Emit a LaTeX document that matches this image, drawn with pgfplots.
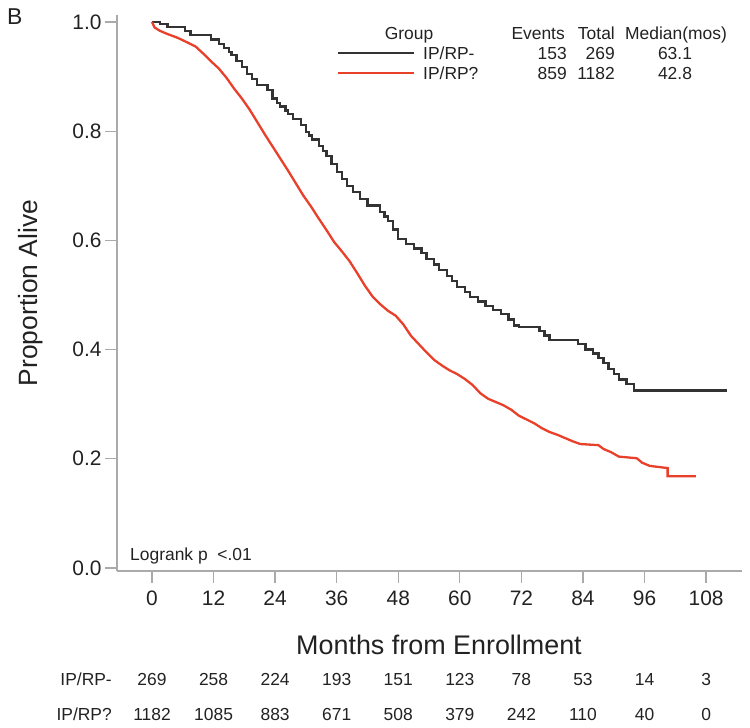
\documentclass[border=0pt]{standalone}
\usepackage{pgfplots}
\pgfplotsset{compat=1.18}
\usepackage{fontspec}
\setmainfont{Liberation Sans}
\definecolor{kmblack}{HTML}{333333}
\definecolor{kmred}{HTML}{E8402A}
\definecolor{axgray}{HTML}{AAAAAA}
\definecolor{txt}{HTML}{222222}
\newcommand{\fs}[1]{\fontsize{#1}{#1}\selectfont}

\begin{document}
\begin{tikzpicture}[x=1bp,y=1bp]
\path[use as bounding box] (0,0) rectangle (750,728);
\begin{axis}[
  at={(117bp,157bp)}, anchor=south west,
  scale only axis, width=625bp, height=556bp,
  xmin=-6.82, xmax=115, ymin=-0.0055, ymax=1.0128,
  axis lines=left,
  axis line style={-, draw=axgray, line width=1.3bp},
  tick style={draw=axgray, line width=1.3bp},
  tick align=outside, major tick length=12bp,
  xtick={0,12,...,108}, ytick={0,0.2,...,1.0},
  /pgf/number format/assume math mode=true,
  ticklabel style={font=\fs{21}, text=txt},
  yticklabel style={/pgf/number format/.cd, fixed, fixed zerofill, precision=1},
  xticklabel style={yshift=-4bp},
  clip=false,
]
% IP/RP-
\addplot[const plot, kmblack, line width=2.3bp] coordinates {
(0,1.0) (1.5,0.996) (3,0.991) (6.5,0.984) (7.5,0.976) (11.5,0.968) (13,0.96)
(14,0.952) (15,0.945) (15.5,0.94) (16.5,0.929) (17.5,0.918) (18.5,0.905) (19.5,0.895)
(20.5,0.885) (22.5,0.875) (23.5,0.86) (24.3,0.852) (25,0.845) (26,0.838) (26.5,0.832) (27.5,0.822)
(29,0.811) (30,0.798) (30.6,0.792) (31.2,0.785) (32.5,0.773) (33.3,0.764) (34,0.755) (35,0.74) (36,0.725)
(37,0.712) (38,0.70) (39.2,0.688) (40.5,0.676) (42,0.664) (44.5,0.652) (45.3,0.644) (46,0.636)
(47,0.62) (48,0.603) (49.5,0.593) (51,0.585) (52.5,0.577) (53.5,0.566) (55,0.556)
(56,0.546) (57.5,0.535) (58.5,0.525) (59.5,0.514) (61,0.506) (62,0.496)
(63.5,0.488) (65,0.48) (66.5,0.472) (68,0.465) (69.5,0.455) (70.5,0.444)
(71.5,0.441) (75.5,0.434) (76.5,0.426) (77.5,0.418) (83,0.410) (84.5,0.40)
(86,0.393) (87,0.385) (88,0.375) (89,0.365) (90,0.355) (91,0.345) (92.5,0.337)
(94,0.325) (112,0.325)
};
% IP/RP?
\addplot[sharp plot, kmred, line width=2.3bp] coordinates {
(0,1.0) (0.5,0.99) (1.5,0.984) (3,0.978) (5,0.971) (7,0.962) (8.5,0.955)
(10,0.942) (11.5,0.928) (13,0.915) (14.5,0.898) (16,0.878) (17.5,0.86) (19,0.84)
(20.5,0.817) (22,0.794) (23.5,0.772) (25,0.75) (26.5,0.728) (28,0.705)
(29.5,0.682) (31,0.662) (32.5,0.64) (34,0.619) (35.5,0.597) (37,0.58)
(38.5,0.562) (40,0.54) (41.5,0.517) (43,0.497) (44.5,0.483) (46,0.471)
(47.5,0.462) (49,0.446) (50.5,0.425) (52,0.41) (53.5,0.395) (55,0.381)
(56.5,0.371) (58,0.362) (59.5,0.355) (61,0.346) (62.5,0.335) (64,0.32)
(65.5,0.31) (67,0.304) (68.5,0.298) (70,0.29) (71.5,0.279) (73,0.272)
(74.5,0.265) (76,0.256) (77.5,0.249) (79,0.244) (80.5,0.238) (82,0.232)
(83.5,0.227) (87,0.225) (88,0.218) (89.5,0.212) (91,0.204) (94.5,0.201)
(95.5,0.193) (97,0.187) (100.5,0.183) (100.5,0.168) (106,0.168)
};
\end{axis}

% panel letter and axis titles
\node[anchor=base west, inner sep=0, text=txt, font=\fs{23}] at (7,703) {B};
\node[anchor=base, inner sep=0, rotate=90, text=txt, font=\fs{26.5}] at (37.5,435) {Proportion Alive};
\node[anchor=base, inner sep=0, text=txt, font=\fs{27}] at (439,73.3) {Months from Enrollment};
\node[anchor=base west, inner sep=0, text=txt, font=\fs{17.5}] at (130,167) {Logrank p\ \ <.01};

% legend table
\begin{scope}[every node/.style={inner sep=0, text=txt, font=\fs{17.5}}]
\node[anchor=base] at (409,688) {Group};
\node[anchor=base east] at (565,688) {Events};
\node[anchor=base east] at (615,688) {Total};
\node[anchor=base west] at (625,688) {Median(mos)};
\draw[kmblack, line width=2bp] (338,675) -- (414,675);
\draw[kmred, line width=2bp] (338,654.5) -- (414,654.5);
\node[anchor=base west] at (423,668.7) {IP/RP-};
\node[anchor=base west] at (423,648.2) {IP/RP?};
\node[anchor=base east] at (567,668.7) {153};
\node[anchor=base east] at (567,648.2) {859};
\node[anchor=base east] at (615,668.7) {269};
\node[anchor=base east] at (615,648.2) {1182};
\node[anchor=base] at (675,668.7) {63.1};
\node[anchor=base] at (675,648.2) {42.8};

% numbers at risk
\node[anchor=base east] at (112,42.7) {IP/RP-};
\node[anchor=base east] at (112,7.7) {IP/RP?};
\foreach \m/\a/\b in {0/269/1182, 12/258/1085, 24/224/883, 36/193/671, 48/151/508,
  60/123/379, 72/78/242, 84/53/110, 96/14/40, 108/3/0} {
  \node[anchor=base] at ({152+5.1306*\m},42.7) {\a};
  \node[anchor=base] at ({152+5.1306*\m},7.7) {\b};
}
\end{scope}
\end{tikzpicture}
\end{document}
